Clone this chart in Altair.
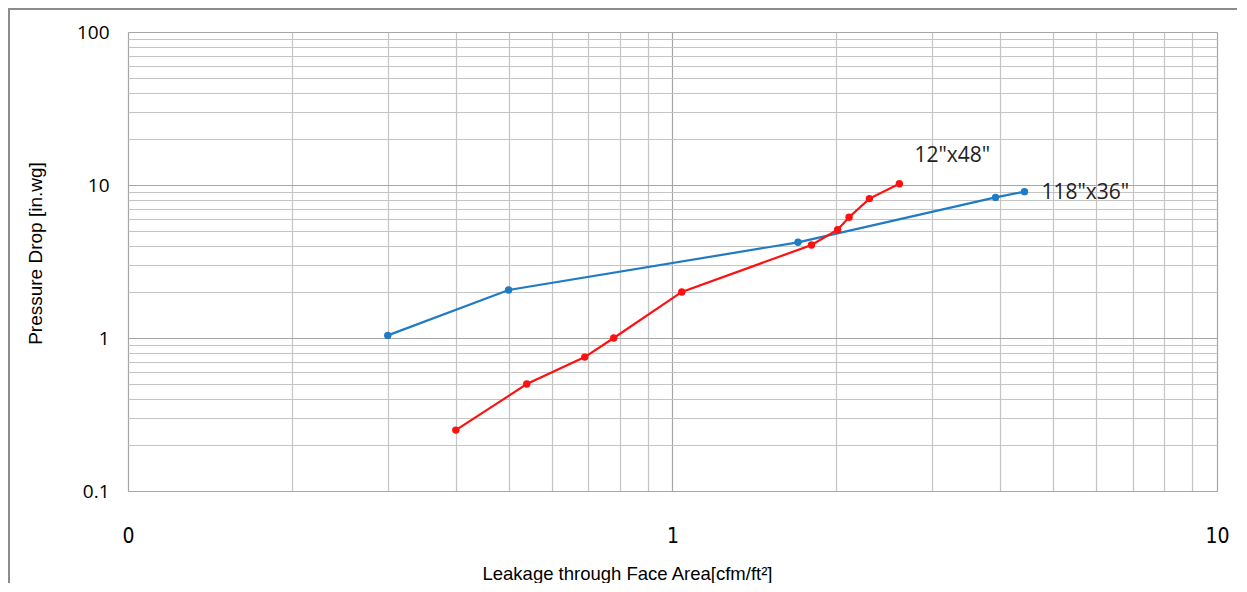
import altair as alt
import pandas as pd

# Series data
blue_name = '118"x36"'
blue_x = [0.30, 0.50, 1.70, 3.92, 4.43]
blue_y = [1.04, 2.06, 4.22, 8.3, 9.05]

red_name = '12"x48"'
red_x = [0.40, 0.54, 0.69, 0.78, 1.04, 1.80, 2.01, 2.11, 2.30, 2.61]
red_y = [0.25, 0.50, 0.75, 1.0, 2.0, 4.05, 5.1, 6.15, 8.15, 10.2]

x_ticks = [0.1, 0.2, 0.3, 0.4, 0.5, 0.6, 0.7, 0.8, 0.9,
           1, 2, 3, 4, 5, 6, 7, 8, 9, 10]
y_ticks = [0.1, 0.2, 0.3, 0.4, 0.5, 0.6, 0.7, 0.8, 0.9,
           1, 2, 3, 4, 5, 6, 7, 8, 9,
           10, 20, 30, 40, 50, 60, 70, 80, 90, 100]

BLUE = "#1F7BC4"
RED = "#FF1010"

df = pd.concat([
    pd.DataFrame({"x": blue_x, "y": blue_y, "series": blue_name}),
    pd.DataFrame({"x": red_x, "y": red_y, "series": red_name}),
])

labels = pd.DataFrame({
    "x": [red_x[-1], blue_x[-1]],
    "y": [red_y[-1], blue_y[-1]],
    "series": [red_name, blue_name],
})

decade_test = "indexof([0.1, 1, 10, 100], datum.value) >= 0"

xscale = alt.Scale(type="log", domain=[0.1, 10], nice=False)
yscale = alt.Scale(type="log", domain=[0.1, 100], nice=False)
color = alt.Color("series:N", scale=alt.Scale(domain=[blue_name, red_name], range=[BLUE, RED]), legend=None)

NARROW = "DejaVu Sans Condensed, Liberation Sans, sans-serif"

x_enc = alt.X("x:Q", scale=xscale, axis=alt.Axis(
    values=x_ticks,
    title="Leakage through Face Area[cfm/ft²]",
    titleFont="Liberation Sans",
    titleFontSize=18.5, titleFontWeight="normal", titleColor="#000000",
    titleX=499, titleY=88, titleAlign="center", titleBaseline="alphabetic",
    labelExpr="datum.value == 0.1 ? '0' : (datum.value == 1 ? '1' : (datum.value == 10 ? '10' : ''))",
    labelFont=NARROW, labelFontSize=21, labelColor="#000000",
    labelPadding=34, labelOverlap=False, labelFlush=False, labelBound=False,
    ticks=False, domain=False,
    gridColor=alt.condition(decade_test, alt.value("#a6a6a6"), alt.value("#c4c4c4")),
    gridWidth=1.2,
))
y_enc = alt.Y("y:Q", scale=yscale, axis=alt.Axis(
    values=y_ticks,
    title="Pressure Drop [in.wg]",
    titleFont="Liberation Sans",
    titleFontSize=19, titleFontWeight="normal", titleColor="#000000",
    titleX=-93, titleY=221, titleAlign="center", titleBaseline="middle", titleAngle=-90,
    labelExpr="datum.value == 0.1 ? '0.1' : (datum.value == 1 ? '1' : (datum.value == 10 ? '10' : (datum.value == 100 ? '100' : '')))",
    labelFont="Open Sans", labelFontSize=19, labelColor="#000000",
    labelPadding=19, labelOverlap=False, labelFlush=False, labelBound=False,
    ticks=False, domain=False,
    gridColor=alt.condition(decade_test, alt.value("#a6a6a6"), alt.value("#c4c4c4")),
    gridWidth=1.2,
))

base = alt.Chart(df)

lines = base.mark_line(strokeWidth=2.2).encode(
    x=x_enc, y=y_enc, color=color, detail="series:N", order="x:Q"
)
points = base.mark_circle(size=55, opacity=1).encode(
    x="x:Q", y="y:Q", color=color
)

red_label = alt.Chart(labels[labels.series == red_name]).mark_text(
    font="Open Sans", fontSize=21, color="#222222", align="center", baseline="middle",
    dx=53, dy=-28
).encode(x="x:Q", y="y:Q", text="series:N")

blue_label = alt.Chart(labels[labels.series == blue_name]).mark_text(
    font="Open Sans", fontSize=21, color="#222222", align="left", baseline="middle",
    dx=17, dy=1
).encode(x="x:Q", y="y:Q", text="series:N")

# outer chart frame (top and left edges)
frame_top = alt.Chart(pd.DataFrame({"v": [0]})).mark_rule(color="#8c8c8c", strokeWidth=2).encode(
    x=alt.value(-120), x2=alt.value(1109), y=alt.value(-23)
)
frame_left = alt.Chart(pd.DataFrame({"v": [0]})).mark_rule(color="#8c8c8c", strokeWidth=2).encode(
    x=alt.value(-119), y=alt.value(-24), y2=alt.value(551)
)

chart = alt.layer(lines, points, red_label, blue_label, frame_top, frame_left).properties(
    width=1089, height=459,
    autosize=alt.AutoSizeParams(type="none"),
    padding={"left": 120, "top": 24, "right": 20, "bottom": 92},
).configure_view(
    stroke="#9a9a9a", strokeWidth=1.5
).configure(background="white")

chart.save("out.html", embed_options={"renderer": "svg", "actions": False})
